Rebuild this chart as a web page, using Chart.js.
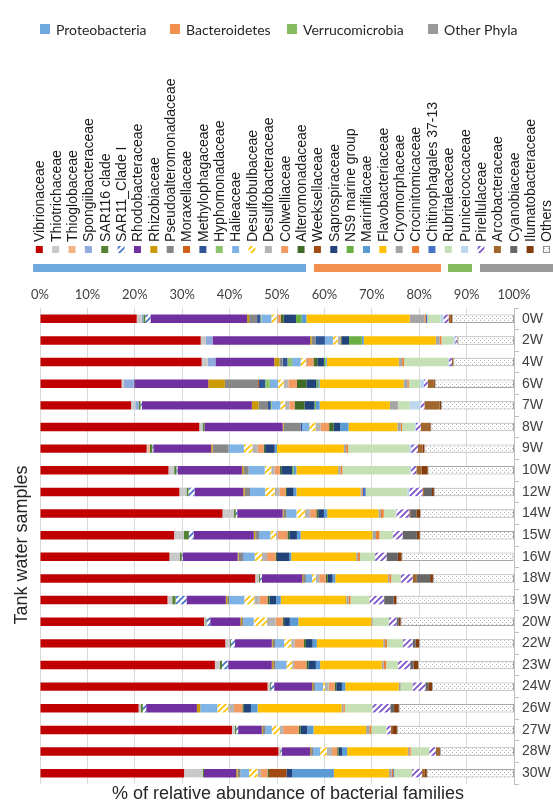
<!DOCTYPE html>
<html>
<head>
<meta charset="utf-8">
<script src="https://cdn.jsdelivr.net/npm/chart.js@4.4.1/dist/chart.umd.min.js"></script>
<style>
  html, body { margin: 0; padding: 0; background: #ffffff; }
  #wrap { width: 553px; height: 803px; position: relative; }
</style>
</head>
<body>
<div id="wrap"><canvas id="chart" width="553" height="803"></canvas></div>
<script>
// Sampling weeks (rows, top to bottom)
const samples = ['0W','2W','4W','6W','7W','8W','9W','10W','12W','14W','15W','16W','18W','19W','20W','22W','23W','24W','26W','27W','28W','30W'];

// Bacterial families, in stacking order
const families = ['Vibrionaceae','Thiotrichaceae','Thioglobaceae','Spongiibacteraceae','SAR116 clade','SAR11_Clade I','Rhodobacteraceae','Rhizobiaceae','Pseudoalteromonadaceae','Moraxellaceae','Methylophagaceae','Hyphomonadaceae','Halieaceae','Desulfobulbaceae','Desulfobacteraceae','Colwelliaceae','Alteromonadaceae','Weeksellaceae','Saprospiraceae','NS9 marine group','Marinifilaceae','Flavobacteriaceae','Cryomorphaceae','Crocinitomicaceae','Chitinophagales 37-13','Rubritaleaceae','Puniceicoccaceae','Pirellulaceae','Arcobacteraceae','Cyanobiaceae','Ilumatobacteraceae','Others'];

// Relative abundance (%) per family, one value per sample
const vibrionaceae        = [20.4,33.9,34.1,17.2,19.2,33.6,22.5,27.1,29.4,38.5,28.3,27.3,45.4,26.9,34.6,39.1,36.9,48.0,20.8,40.5,50.3,30.4];
const thiotrichaceae      = [1.1,1.1,1.3,0.5,0.9,0.7,0.3,1.2,1.5,2.4,2.0,2.2,0.8,1.0,0.3,1.0,1.0,0.5,0.5,0.6,0.3,3.9];
const thioglobaceae       = [0,0,0,0,0,0,0.4,0,0,0,0,0,0,0,0,0,0,0,0,0,0,0];
const spongiibacteraceae  = [0.3,1.4,1.6,2.1,0.7,0,0,0,0,0,0,0,0,0,0,0,0,0,0,0,0,0];
const sar116Clade         = [0.4,0,0,0.1,0.4,0.4,0.5,0.5,0.4,0.4,1.1,0.4,0.2,0.7,0.2,0.2,0.5,0.2,0.4,0.3,0.1,0.3];
const sar11CladeI         = [1.1,0,0,0,0.3,0,0.2,0.2,1.3,0.3,1.0,0.2,0.4,2.3,0.8,0.8,1.3,0.7,0.7,0.4,0.3,0];
const rhodobacteraceae    = [20.4,20.6,12.4,15.6,23.2,16.5,12.2,13.6,10.3,9.6,12.7,11.6,8.5,8.3,6.4,7.8,9.2,8.0,10.7,5.0,6.0,6.8];
const rhizobiaceae        = [0.4,0.3,1.1,3.5,1.4,0.2,0.3,0.3,0.3,0.2,0.3,0.2,0.2,0.3,0.3,0.2,0.3,0.2,0.7,0.2,0.2,0.3];
const pseudoalteromonad   = [1.7,0.8,0.7,7.0,2.0,3.6,3.4,1.1,1.1,0.6,0.8,0.8,0.6,0.4,0.3,0.5,0.5,0.4,0,0.5,0.4,0.6];
const moraxellaceae       = [0,0,0,0.2,0,0,0,0,0,0,0,0,0,0,0,0,0,0,0,0,0,0];
const methylophagaceae    = [0.7,2.0,1.0,1.3,0.6,0.3,0,0,0,0,0,0.2,0,0,0,0,0,0,0,0,0,0];
const hyphomonadaceae     = [0.2,0,1.0,1.0,0.2,0,0,0,0,0,0,0,0,0,0,0,0,0,0,0,0,0];
const halieaceae          = [2.1,1.7,1.8,1.7,1.8,1.5,3.2,3.4,3.2,2.1,2.4,2.4,1.3,3.2,2.2,1.9,2.3,1.7,3.6,1.4,1.5,1.8];
const desulfobulbaceae    = [1.1,1.0,1.1,1.2,1.0,1.3,1.8,1.4,2.0,1.8,1.2,1.5,0.8,2.1,2.8,1.5,1.2,0.4,2.3,1.7,1.4,1.8];
const desulfobacteraceae  = [0.3,0.5,0.2,1.0,0.9,1.1,1.1,0.7,1.0,1.1,0.4,1.1,0.7,1.1,1.8,0.7,0.4,0.8,1.2,0.7,1.1,0.7];
const colwelliaceae       = [0.6,0.1,1.4,1.8,1.1,1.8,1.3,1.1,1.3,1.3,2.0,1.8,1.4,1.7,1.5,2.0,2.6,1.3,1.8,3.3,1.1,1.4];
const alteromonadaceae    = [0.6,0.2,0.8,2.0,2.1,0.9,0.3,0.3,0.3,0.4,0.4,0.3,0.4,0.4,0.3,0.4,0.4,0.3,0.3,0.4,0.3,0.3];
const weeksellaceae       = [0,0,0,0,0,0,0,0,0,0,0,0,0,0,0,0,0,0,0,0,0,3.7];
const saprospiraceae      = [2.6,1.6,1.4,2.1,2.1,1.4,2.0,2.3,1.4,1.2,1.6,2.6,1.0,1.4,1.2,1.4,1.6,1.2,1.5,1.4,0.7,1.2];
const ns9MarineGroup      = [1.2,2.7,0.3,0.4,0.3,0,0,0.3,0,0,0,0,0,0,0,0,0,0,0,0,0,0];
const marinifilaceae      = [1.0,0.4,0.3,0.3,0.8,1.8,0.5,0.6,0.6,0.7,0.8,0.4,0.6,1.0,1.8,0.9,0.9,0.7,1.4,1.3,1.1,8.8];
const flavobacteriaceae   = [21.8,15.2,15.2,17.7,14.8,10.3,14.1,8.8,13.5,10.8,15.1,13.7,11.1,13.8,15.4,14.0,13.0,11.3,17.7,11.1,12.8,11.6];
const cryomorphaceae      = [3.1,0.8,0.7,0.8,1.7,0.7,0.5,0.5,0.3,0.5,0.8,0.4,0.3,0.5,0.3,0.4,0.4,0.4,0.4,0.7,0.3,0.6];
const crocinitomicaceae   = [0.3,0.4,0.4,0.3,0,0.3,0.4,0.4,0.2,0.6,0.7,0.4,0.4,0.4,0,0.4,0.5,0,0.3,0.4,0.3,0.3];
const chitinophagales     = [0.3,0,0,0,0,0,0,0,0.6,0,0,0,0,0,0,0,0,0,0,0,0,0.2];
const rubritaleaceae      = [2.8,2.5,9.3,2.4,2.5,2.6,12.9,14.2,8.8,2.5,2.8,3.2,2.0,4.0,3.4,3.4,2.5,2.5,5.8,3.2,3.9,3.8];
const puniceicoccaceae    = [0.6,0.4,0.2,0.8,2.3,0.3,0.4,0.3,0.4,0.2,0,0,0,0,0,0,0,0,0,0,0,0];
const pirellulaceae       = [1.1,0.4,0.6,0.8,0.8,1.0,1.4,1.1,2.8,2.7,2.1,2.4,2.5,3.1,1.6,2.0,2.6,2.7,3.8,0.9,1.4,2.1];
const arcobacteraceae     = [0.5,0.1,0.3,1.3,3.2,1.8,1.0,1.1,0.3,0.2,0,0,0.9,0,0,0,0,0,0,0.3,0.9,0.6];
const cyanobiaceae        = [0,0,0,0,0,0,0,0,1.7,1.3,3.0,2.4,2.8,2.0,0.5,0.6,0.7,0.6,0.8,0,0,0];
const ilumatobacteraceae  = [0.2,0,0,0.2,0.3,0.3,0.4,1.3,0.4,0.8,0.6,0.8,0.6,0.6,0.4,0.8,1.0,0.8,1.0,1.0,0,0.4];
const others              = [13.1,11.9,12.8,16.7,15.4,17.6,18.9,18.2,16.9,19.8,19.9,23.6,17.1,24.8,23.9,20.0,20.2,17.3,24.3,24.7,15.6,18.4];

const familySeries = [vibrionaceae, thiotrichaceae, thioglobaceae, spongiibacteraceae, sar116Clade, sar11CladeI,
  rhodobacteraceae, rhizobiaceae, pseudoalteromonad, moraxellaceae, methylophagaceae, hyphomonadaceae, halieaceae,
  desulfobulbaceae, desulfobacteraceae, colwelliaceae, alteromonadaceae, weeksellaceae, saprospiraceae, ns9MarineGroup,
  marinifilaceae, flavobacteriaceae, cryomorphaceae, crocinitomicaceae, chitinophagales, rubritaleaceae,
  puniceicoccaceae, pirellulaceae, arcobacteraceae, cyanobiaceae, ilumatobacteraceae, others];

// Phyla shown in the top key and as bands under the family key
const phyla = ['Proteobacteria', 'Bacteroidetes', 'Verrucomicrobia', 'Other Phyla'];
const phylumColors = ['#6FA8DC', '#F2904F', '#86BC5F', '#9A9A9A'];

// X axis tick values (%)
const percentTicks = [0, 10, 20, 30, 40, 50, 60, 70, 80, 90, 100];

// ---- fills ----
const mainCanvas = document.getElementById('chart');
const mainCtx = mainCanvas.getContext('2d');

function hatchFill(color) {
  const s = 6;
  const t = document.createElement('canvas');
  t.width = s; t.height = s;
  const g = t.getContext('2d');
  g.fillStyle = '#ffffff';
  g.fillRect(0, 0, s, s);
  g.strokeStyle = color;
  g.lineWidth = 1.7;
  g.beginPath();
  g.moveTo(-1, s + 1); g.lineTo(s + 1, -1);
  g.moveTo(-1, 1); g.lineTo(1, -1);
  g.moveTo(s - 1, s + 1); g.lineTo(s + 1, s - 1);
  g.stroke();
  return mainCtx.createPattern(t, 'repeat');
}

function dotFill() {
  const s = 4;
  const t = document.createElement('canvas');
  t.width = s; t.height = s;
  const g = t.getContext('2d');
  g.fillStyle = '#ffffff';
  g.fillRect(0, 0, s, s);
  g.fillStyle = '#b5b5b5';
  g.fillRect(0, 0, 1, 1);
  g.fillRect(2, 2, 1, 1);
  return mainCtx.createPattern(t, 'repeat');
}

const familyFills = [
  '#C00000', '#C9C9C9', '#F4B183', '#8FAADC', '#548235', hatchFill('#4472C4'),
  '#7030A0', '#CC9A06', '#878787', '#D0601A', '#2F5597', '#8DC36B', '#7FB2E5',
  hatchFill('#FFC000'), '#B4B4B4', '#F19B62', '#3F6B26', '#A14A12', '#22427A', '#6AAE44',
  '#5B9BD5', '#FFC000', '#A5A5A5', '#ED7D31', '#4472C4', '#C5E0B4',
  '#BDD7EE', hatchFill('#7B4FC9'), '#A0662E', '#666666', '#843C0C', dotFill()
];

// ---- decorations: phylum key, family key, axis titles ----
const decorations = {
  id: 'decorations',
  afterDraw(chart) {
    const ctx = chart.ctx;
    ctx.save();

    // phylum key
    const keyY = 29;
    const keyX = [40, 170, 287, 428];
    ctx.font = '14px Lato, "Open Sans", sans-serif';
    ctx.textBaseline = 'middle';
    ctx.textAlign = 'left';
    phyla.forEach((p, i) => {
      ctx.fillStyle = phylumColors[i];
      ctx.fillRect(keyX[i], keyY - 5, 10, 10);
      ctx.fillStyle = '#262626';
      ctx.fillText(p, keyX[i] + 16, keyY + 1);
    });

    // family key: rotated names with swatches
    const x0 = 39.3, step = 16.36, textBottom = 242, swY = 246, sw = 7;
    ctx.font = '14px "Liberation Sans", Arial, sans-serif';
    families.forEach((f, i) => {
      const x = x0 + i * step;
      ctx.save();
      ctx.translate(x + 1, textBottom);
      ctx.rotate(-Math.PI / 2);
      ctx.fillStyle = '#1a1a1a';
      ctx.textAlign = 'left';
      ctx.textBaseline = 'middle';
      ctx.fillText(f, 0, 0);
      ctx.restore();
      ctx.fillStyle = familyFills[i];
      ctx.fillRect(x - sw / 2, swY, sw, sw);
      if (i === families.length - 1) {
        ctx.strokeStyle = '#8c8c8c';
        ctx.lineWidth = 1;
        ctx.strokeRect(x - sw / 2 + 0.5, swY + 0.5, sw - 1, sw - 1);
      }
    });

    // phylum bands under the family key
    const bands = [[33, 306], [314, 441], [448, 472], [480, 553]];
    bands.forEach((b, i) => {
      ctx.fillStyle = phylumColors[i];
      ctx.fillRect(b[0], 264, b[1] - b[0], 8);
    });

    // axis titles
    ctx.fillStyle = '#262626';
    ctx.font = '18px "Liberation Sans", Arial, sans-serif';
    ctx.textAlign = 'center';
    ctx.textBaseline = 'middle';
    ctx.fillText('% of relative abundance of bacterial families', 288, 794);
    ctx.save();
    ctx.translate(22, 545);
    ctx.rotate(-Math.PI / 2);
    ctx.fillText('Tank water samples', 0, 0);
    ctx.restore();

    ctx.restore();
  }
};

new Chart(mainCanvas, {
  type: 'bar',
  data: {
    labels: samples,
    datasets: families.map((f, i) => ({
      label: f,
      data: familySeries[i],
      backgroundColor: familyFills[i],
      borderWidth: i === families.length - 1 ? 1 : 0,
      borderColor: '#a6a6a6',
      borderSkipped: false,
      barPercentage: 0.78,
      categoryPercentage: 0.5
    }))
  },
  options: {
    indexAxis: 'y',
    responsive: false,
    animation: false,
    devicePixelRatio: 1,
    layout: { padding: { left: 40, right: 0, top: 288, bottom: 19 } },
    plugins: { legend: { display: false }, tooltip: { enabled: false } },
    scales: {
      x: {
        stacked: true,
        position: 'top',
        min: 0,
        max: 100,
        afterBuildTicks: s => { s.ticks = percentTicks.map(v => ({ value: v })); },
        afterFit: s => { s.height = 20; },
        ticks: {
          callback: v => v + '%',
          font: { family: 'Lato, "Open Sans", sans-serif', size: 13 },
          color: '#404040',
          padding: 5,
          maxRotation: 0
        },
        grid: { color: '#d9d9d9', drawTicks: false },
        border: { display: false }
      },
      y: {
        stacked: true,
        position: 'right',
        afterFit: s => { s.width = 39; },
        ticks: {
          font: { family: '"Liberation Sans", Arial, sans-serif', size: 14 },
          color: '#404040',
          padding: 3
        },
        grid: { drawOnChartArea: false, drawTicks: true, tickLength: 5, color: '#bfbfbf', offset: true },
        border: { display: true, color: '#bfbfbf' }
      }
    }
  },
  plugins: [decorations]
});
</script>
</body>
</html>
